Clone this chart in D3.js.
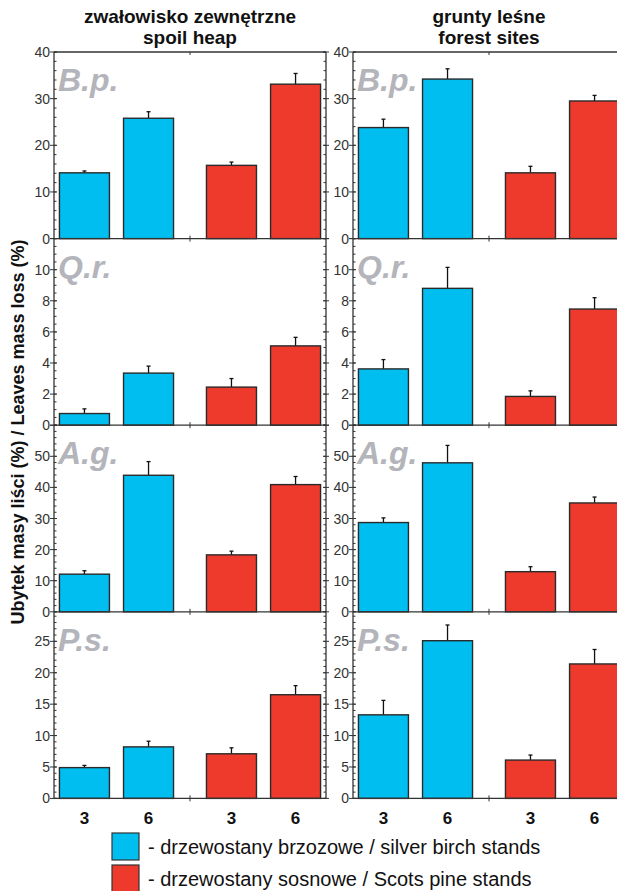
<!DOCTYPE html>
<html>
<head>
<meta charset="utf-8">
<script src="https://d3js.org/d3.v7.min.js"></script>
<style>
body { margin: 0; background: #fff; }
svg text { font-family: "Liberation Sans", Arial, sans-serif; }
</style>
</head>
<body>
<script>

/* data */

var species = ["B.p.", "Q.r.", "A.g.", "P.s."];
var siteTitles = [["zwałowisko zewnętrzne", "spoil heap"], ["grunty leśne", "forest sites"]];
var standTypes = ["birch", "pine"];
var ages = ["3", "6"];
var legendLabels = ["- drzewostany brzozowe / silver birch stands",
                    "- drzewostany sosnowe / Scots pine stands"];
var yTitle = "Ubytek masy liści (%) / Leaves mass loss (%)";

// y axis per species row
var yMax = [40, 12, 60, 29.7];
var yStep = [10, 2, 10, 5];
var yMinor = [2, 0.5, 2, 1];

// means: birch 3, birch 6, pine 3, pine 6
var spoilMean = [
  [14.1, 25.8, 15.7, 33.1],
  [0.75, 3.35, 2.45, 5.1],
  [12.1, 43.9, 18.3, 40.9],
  [4.9, 8.2, 7.1, 16.5]
];
var spoilErr = [
  [0.4, 1.4, 0.7, 2.3],
  [0.3, 0.45, 0.55, 0.55],
  [1.1, 4.4, 1.2, 2.6],
  [0.35, 0.9, 0.95, 1.45]
];
var forestMean = [
  [23.8, 34.2, 14.1, 29.5],
  [3.62, 8.8, 1.85, 7.47],
  [28.7, 47.9, 12.9, 35.0],
  [13.3, 25.1, 6.1, 21.4]
];
var forestErr = [
  [1.8, 2.2, 1.4, 1.2],
  [0.6, 1.35, 0.36, 0.73],
  [1.5, 5.6, 1.6, 1.9],
  [2.3, 2.5, 0.8, 2.3]
];

var colors = {birch: "#00bff0", pine: "#ee3a2d"};

/* layout */

var W = 617, H = 891;
var panelLeft = [54, 353];
var panelW = 272;
var top0 = 52, rowH = 186.6;
var axisColor = "#333";

var svg = d3.select("body").append("svg")
  .attr("width", W).attr("height", H);

var xGroup = d3.scaleBand().domain(standTypes)
  .range([0, panelW]).paddingInner(0.224).paddingOuter(0.037);
var xAge = d3.scaleBand().domain(ages)
  .range([0, xGroup.bandwidth()]).paddingInner(0.22).paddingOuter(0);

var means = [spoilMean, forestMean];
var errs = [spoilErr, forestErr];

// headers
siteTitles.forEach(function(t, s) {
  var cx = panelLeft[s] + panelW / 2;
  svg.append("text").attr("x", cx).attr("y", 23)
    .attr("text-anchor", "middle").attr("font-size", 19).attr("font-weight", "bold")
    .attr("fill", "#111").text(t[0]);
  svg.append("text").attr("x", cx).attr("y", 44)
    .attr("text-anchor", "middle").attr("font-size", 19).attr("font-weight", "bold")
    .attr("fill", "#111").text(t[1]);
});

species.forEach(function(sp, r) {
  var rowTop = top0 + r * rowH;
  var y = d3.scaleLinear().domain([0, yMax[r]]).range([rowTop + rowH, rowTop]);
  var majors = d3.range(0, yMax[r] + 1e-6, yStep[r]);
  var minors = d3.range(0, yMax[r] + 1e-6, yMinor[r]);
  // the top value of lower rows is shared with the zero of the row above
  var labelled = r === 0 ? majors : majors.filter(function(d) { return d < yMax[r] - 1e-6; });

  [0, 1].forEach(function(s) {
    var g = svg.append("g").attr("transform", "translate(" + panelLeft[s] + ",0)");

    var rows = [];
    standTypes.forEach(function(st, i) {
      ages.forEach(function(a, j) {
        rows.push({stand: st, age: a, v: means[s][r][i * 2 + j], e: errs[s][r][i * 2 + j]});
      });
    });

    // error bars (upper whisker only)
    var eb = g.selectAll(".eb").data(rows).enter().append("g");
    eb.append("line")
      .attr("x1", function(d) { return xGroup(d.stand) + xAge(d.age) + xAge.bandwidth() / 2; })
      .attr("x2", function(d) { return xGroup(d.stand) + xAge(d.age) + xAge.bandwidth() / 2; })
      .attr("y1", function(d) { return y(d.v); })
      .attr("y2", function(d) { return y(d.v + d.e); })
      .attr("stroke", "#111").attr("stroke-width", 1.3);
    eb.append("line")
      .attr("x1", function(d) { return xGroup(d.stand) + xAge(d.age) + xAge.bandwidth() / 2 - 2; })
      .attr("x2", function(d) { return xGroup(d.stand) + xAge(d.age) + xAge.bandwidth() / 2 + 2; })
      .attr("y1", function(d) { return y(d.v + d.e); })
      .attr("y2", function(d) { return y(d.v + d.e); })
      .attr("stroke", "#111").attr("stroke-width", 1.3);

    g.selectAll(".bar").data(rows).enter().append("rect")
      .attr("x", function(d) { return xGroup(d.stand) + xAge(d.age); })
      .attr("width", xAge.bandwidth())
      .attr("y", function(d) { return y(d.v); })
      .attr("height", function(d) { return y(0) - y(d.v); })
      .attr("fill", function(d) { return colors[d.stand]; })
      .attr("stroke", "#2a2a2a").attr("stroke-width", 1.4);

    // species label
    g.append("text").attr("x", 4).attr("y", rowTop + 39)
      .attr("font-size", 32).attr("font-weight", "bold").attr("font-style", "italic")
      .attr("fill", "#b4b4bb").text(sp);

    // zero line and top line
    g.append("line").attr("x1", 0).attr("x2", panelW)
      .attr("y1", y(0)).attr("y2", y(0)).attr("stroke", axisColor).attr("stroke-width", 1.3);
    if (r === 0) {
      g.append("line").attr("x1", 0).attr("x2", panelW)
        .attr("y1", rowTop).attr("y2", rowTop).attr("stroke", axisColor).attr("stroke-width", 1.3);
      g.append("line").attr("x1", panelW / 2).attr("x2", panelW / 2)
        .attr("y1", rowTop).attr("y2", rowTop + 3).attr("stroke", axisColor);
    }
    g.append("line").attr("x1", panelW / 2).attr("x2", panelW / 2)
      .attr("y1", y(0) - 3).attr("y2", y(0) + 3).attr("stroke", axisColor);

    // left axis
    g.append("line").attr("x1", 0).attr("x2", 0)
      .attr("y1", rowTop).attr("y2", rowTop + rowH).attr("stroke", axisColor).attr("stroke-width", 1.3);
    g.selectAll(".mn").data(minors).enter().append("line")
      .attr("x1", 0).attr("x2", 2.5)
      .attr("y1", function(d) { return y(d); }).attr("y2", function(d) { return y(d); })
      .attr("stroke", axisColor);
    g.selectAll(".mj").data(majors).enter().append("line")
      .attr("x1", -4).attr("x2", 3)
      .attr("y1", function(d) { return y(d); }).attr("y2", function(d) { return y(d); })
      .attr("stroke", axisColor);
    g.selectAll(".tl").data(labelled).enter().append("text")
      .attr("x", -4).attr("y", function(d) { return y(d); }).attr("dy", "0.36em")
      .attr("text-anchor", "end").attr("font-size", 14).attr("fill", "#333")
      .text(function(d) { return d; });

    // right border
    g.append("line").attr("x1", panelW).attr("x2", panelW)
      .attr("y1", rowTop).attr("y2", rowTop + rowH).attr("stroke", axisColor).attr("stroke-width", 1.3);
    g.selectAll(".rmn").data(minors).enter().append("line")
      .attr("x1", panelW - 2.5).attr("x2", panelW)
      .attr("y1", function(d) { return y(d); }).attr("y2", function(d) { return y(d); })
      .attr("stroke", axisColor);
    g.selectAll(".rmj").data(majors).enter().append("line")
      .attr("x1", panelW - 3).attr("x2", panelW + 3)
      .attr("y1", function(d) { return y(d); }).attr("y2", function(d) { return y(d); })
      .attr("stroke", axisColor);

    // age labels under last row
    if (r === species.length - 1) {
      standTypes.forEach(function(st) {
        ages.forEach(function(a) {
          g.append("text")
            .attr("x", xGroup(st) + xAge(a) + xAge.bandwidth() / 2)
            .attr("y", y(0) + 26)
            .attr("text-anchor", "middle").attr("font-size", 17).attr("font-weight", "bold")
            .attr("fill", "#111").text(a);
        });
      });
    }
  });
});

// y title
svg.append("text")
  .attr("transform", "translate(24,432) rotate(-90)")
  .attr("text-anchor", "middle").attr("font-size", 18).attr("font-weight", "bold")
  .attr("fill", "#111").text(yTitle);

// legend
standTypes.forEach(function(st, i) {
  var ly = 833 + i * 32;
  svg.append("rect").attr("x", 112).attr("y", ly).attr("width", 27).attr("height", 27)
    .attr("fill", colors[st]).attr("stroke", "#333").attr("stroke-width", 1.2);
  svg.append("text").attr("x", 148).attr("y", ly + 21)
    .attr("font-size", 20).attr("fill", "#111").text(legendLabels[i]);
});

</script>
</body>
</html>
